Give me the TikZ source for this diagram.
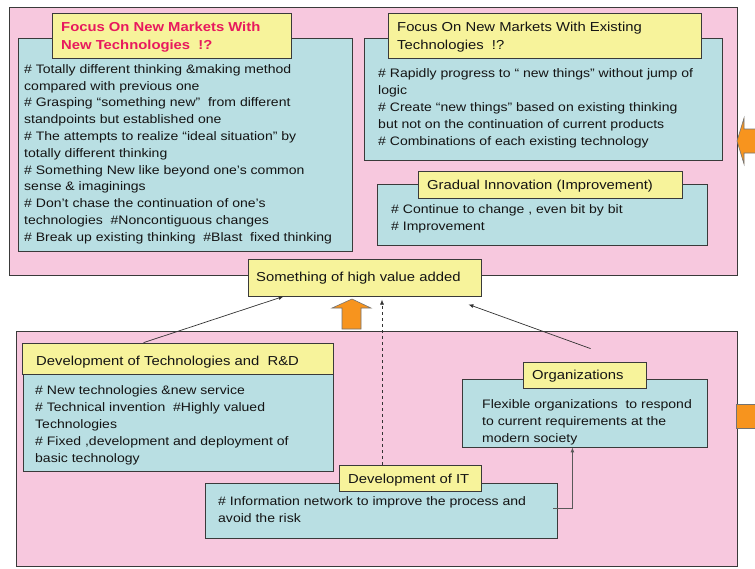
\documentclass[tikz,border=0pt]{standalone}
\usepackage{fontspec}
\setmainfont{Liberation Sans}[FakeStretch=1.14]
\usetikzlibrary{fit,arrows.meta}

\definecolor{panelpink}{HTML}{F7C8DE}
\definecolor{bodycyan}{HTML}{B9DFE3}
\definecolor{titleyellow}{HTML}{F7F39B}
\definecolor{blockorange}{HTML}{F7941E}
\definecolor{hotred}{HTML}{E8195E}
\definecolor{edgegray}{HTML}{3A3A3A}

% straight apostrophe
\newcommand{\sq}{{\char"27}}

% Multi-line text nodes are anchored at the baseline of their last line.
\tikzset{
  panel/.style={draw=edgegray, line width=0.8pt, fill=panelpink, inner sep=0pt},
  bodybox/.style={draw=edgegray, line width=0.8pt, fill=bodycyan, inner sep=0pt},
  titlebox/.style={draw=edgegray, line width=0.8pt, fill=titleyellow, inner sep=0pt},
  bodytext/.style={anchor=base west, inner sep=0pt, align=left, text=black!92,
    font=\fontsize{12.3}{17}\selectfont},
  titletext/.style={anchor=base west, inner sep=0pt, align=left, text=black!92,
    font=\fontsize{13}{18}\selectfont},
  blockarrow/.style={fill=blockorange, draw=black!55, line width=0.6pt},
  link/.style={draw=black!80, line width=0.7pt, -{Latex[length=5pt,width=4pt]}},
}

\begin{document}
\begin{tikzpicture}[x=1pt, y=-1pt]
\clip (0,0) rectangle (755,568);
\fill[white] (0,0) rectangle (755,568);

% ---- upper panel: innovation targets ----
\node[panel, fit={(9,7) (737,275)}] (upper) {};

\node[bodybox, fit={(18,38) (352,251)}] (ntbody) {};
\node[titlebox, fit={(52,13) (291,58)}] (nttitle) {};
\node[titletext, text=hotred, font=\fontsize{13}{18}\selectfont\bfseries] (nttext) at (61,49)
  {Focus On New Markets With\\New Technologies\ \ !?};
\node[bodytext, font=\fontsize{12.3}{16.8}\selectfont] (ntlines) at (24,241.3) {%
  \# Totally different thinking \&making method\\
  compared with previous one\\
  \# Grasping “something new”\ \ from different\\
  standpoints but established one\\
  \# The attempts to realize “ideal situation” by\\
  totally different thinking\\
  \# Something New like beyond one\sq s common\\
  sense \& imaginings\\
  \# Don’t chase the continuation of one\sq s\\
  technologies\ \ \#Noncontiguous changes\\
  \# Break up existing thinking\ \ \#Blast\ \ fixed thinking};

\node[bodybox, fit={(364,38) (722,160)}] (etbody) {};
\node[titlebox, fit={(388,13) (701,58)}] (ettitle) {};
\node[titletext] (ettext) at (397,49)
  {Focus On New Markets With Existing\\Technologies\ \ !?};
\node[bodytext] (etlines) at (378,145.5) {%
  \# Rapidly progress to “ new things” without jump of\\
  logic\\
  \# Create “new things” based on existing thinking\\
  but not on the continuation of current products\\
  \# Combinations of each existing technology};

\node[bodybox, fit={(377,184) (707,245)}] (gibody) {};
\node[titlebox, fit={(418,171) (682,198)}] (gititle) {};
\node[titletext] (gitext) at (427,189.5) {Gradual Innovation (Improvement)};
\node[bodytext] (gilines) at (391,230.5) {%
  \# Continue to change , even bit by bit\\
  \# Improvement};

% ---- outcome ----
\node[titlebox, fit={(248,259) (481,296)}] (value) {};
\node[titletext] (valuetext) at (256,281.5) {Something of high value added};

% ---- lower panel: enablers ----
\node[panel, fit={(16,331) (737,566)}] (lower) {};

\node[bodybox, fit={(23,374) (333,471)}] (rdbody) {};
\node[titlebox, fit={(22,343) (333,374)}] (rdtitle) {};
\node[titletext] (rdtext) at (36,365.5) {Development of Technologies and\ \ R\&D};
\node[bodytext] (rdlines) at (35,462.5) {%
  \# New technologies \&new service\\
  \# Technical invention\ \ \#Highly valued\\
  Technologies\\
  \# Fixed ,development and deployment of\\
  basic technology};

\node[bodybox, fit={(462,379) (707,447)}] (orgbody) {};
\node[titlebox, fit={(523,362) (646,388)}] (orgtitle) {};
\node[titletext] (orgtext) at (532,379.5) {Organizations};
\node[bodytext] (orglines) at (482,442.5) {%
  Flexible organizations\ \ to respond\\
  to current requirements at the\\
  modern society};

\node[bodybox, fit={(205,483) (557,538)}] (itbody) {};
\node[titlebox, fit={(339,465) (481,491)}] (ittitle) {};
\node[titletext] (ittext) at (348,483.5) {Development of IT};
\node[bodytext] (itlines) at (218,522.5) {%
  \# Information network to improve the process and\\
  avoid the risk};

% ---- connectors ----
\draw[link] ([xshift=122pt]rdtitle.north west) -- ([xshift=36pt]value.south west);
\draw[link] ([xshift=68pt]orgtitle.north west) ++(0,-13) -- ([xshift=-13pt, yshift=-8pt]value.south east);
\draw[link, dashed] (ittitle.north -| value.center) ++(17.5,0) -- ++(0,-165);
\draw[draw=black!65, line width=0.9pt, -{Latex[length=5pt,width=4pt]}]
  ([xshift=-4pt, yshift=-26pt]itbody.north east) -| ([xshift=-135pt]orgbody.south east);

% ---- block arrows ----
\draw[blockarrow] (352,299) -- (371,308) -- (361,308) -- (361,329) -- (342,329)
  -- (342,308) -- (332,308) -- cycle;
\draw[blockarrow] (737,141) -- (744,118) -- (744,129) -- (760,129) -- (760,153)
  -- (744,153) -- (744,164) -- cycle;
\draw[blockarrow] (736,404) rectangle (760,428);
\end{tikzpicture}
\end{document}
